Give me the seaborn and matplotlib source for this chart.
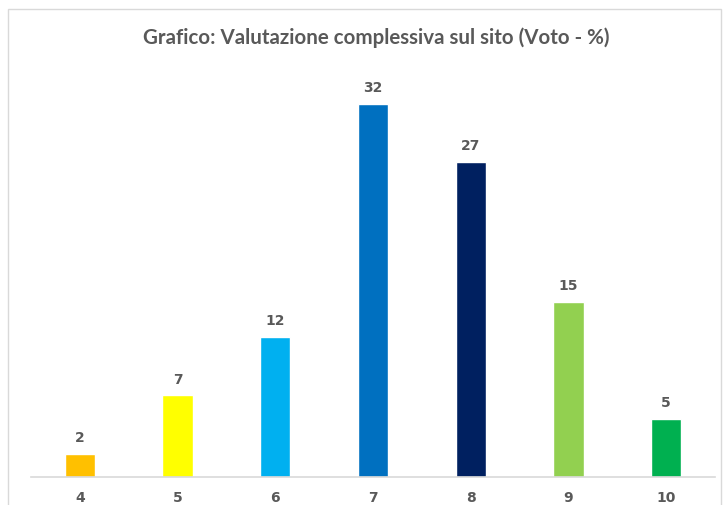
import matplotlib
matplotlib.use("Agg")
import matplotlib.pyplot as plt
import seaborn as sns
import pandas as pd
from matplotlib.patches import Rectangle

# data
voti = ["4", "5", "6", "7", "8", "9", "10"]
percentuali = [2, 7, 12, 32, 27, 15, 5]
colori = ["#FFC000", "#FFFF00", "#00B0F0", "#0070C0", "#002060", "#92D050", "#00B050"]
titolo = "Grafico: Valutazione complessiva sul sito (Voto - %)"

df = pd.DataFrame({"voto": voti, "perc": percentuali})

sns.set_style("white")
grigio = "#595959"

fig = plt.figure(figsize=(7.23, 5.06), dpi=100)
ax = fig.add_axes([0.0429, 0.0553, 0.946, 0.807])

sns.barplot(data=df, x="voto", y="perc", hue="voto", palette=colori,
            legend=False, width=0.31, ax=ax, saturation=1)

for i, v in enumerate(percentuali):
    ax.annotate(str(v), (i, v), xytext=(0, 7), textcoords="offset points",
                ha="center", va="bottom", fontsize=10, fontweight="bold",
                color=grigio, family="DejaVu Sans")

ax.set_ylim(0, 35)
ax.set_xlim(-0.5, len(voti) - 0.5)
ax.set_yticks([])
ax.set_xlabel("")
ax.set_ylabel("")
for s in ["top", "right", "left"]:
    ax.spines[s].set_visible(False)
ax.spines["bottom"].set_color("#D9D9D9")
ax.spines["bottom"].set_linewidth(1.2)
ax.tick_params(axis="x", length=0, pad=9)
for lab in ax.get_xticklabels():
    lab.set_fontsize(10)
    lab.set_fontweight("bold")
    lab.set_color(grigio)
    lab.set_family("DejaVu Sans")

fig.text(0.52, 0.925, titolo, ha="center", va="center", fontsize=14.8,
         fontweight="bold", color=grigio, family="Lato")

# chart frame like the Excel chart area
fig.patches.append(Rectangle((8 / 723, -0.05), 713 / 723, 1 - 10 / 506 + 0.05,
                             transform=fig.transFigure, fill=False,
                             edgecolor="#D9D9D9", linewidth=1))

fig.savefig("out.png", dpi=100)
